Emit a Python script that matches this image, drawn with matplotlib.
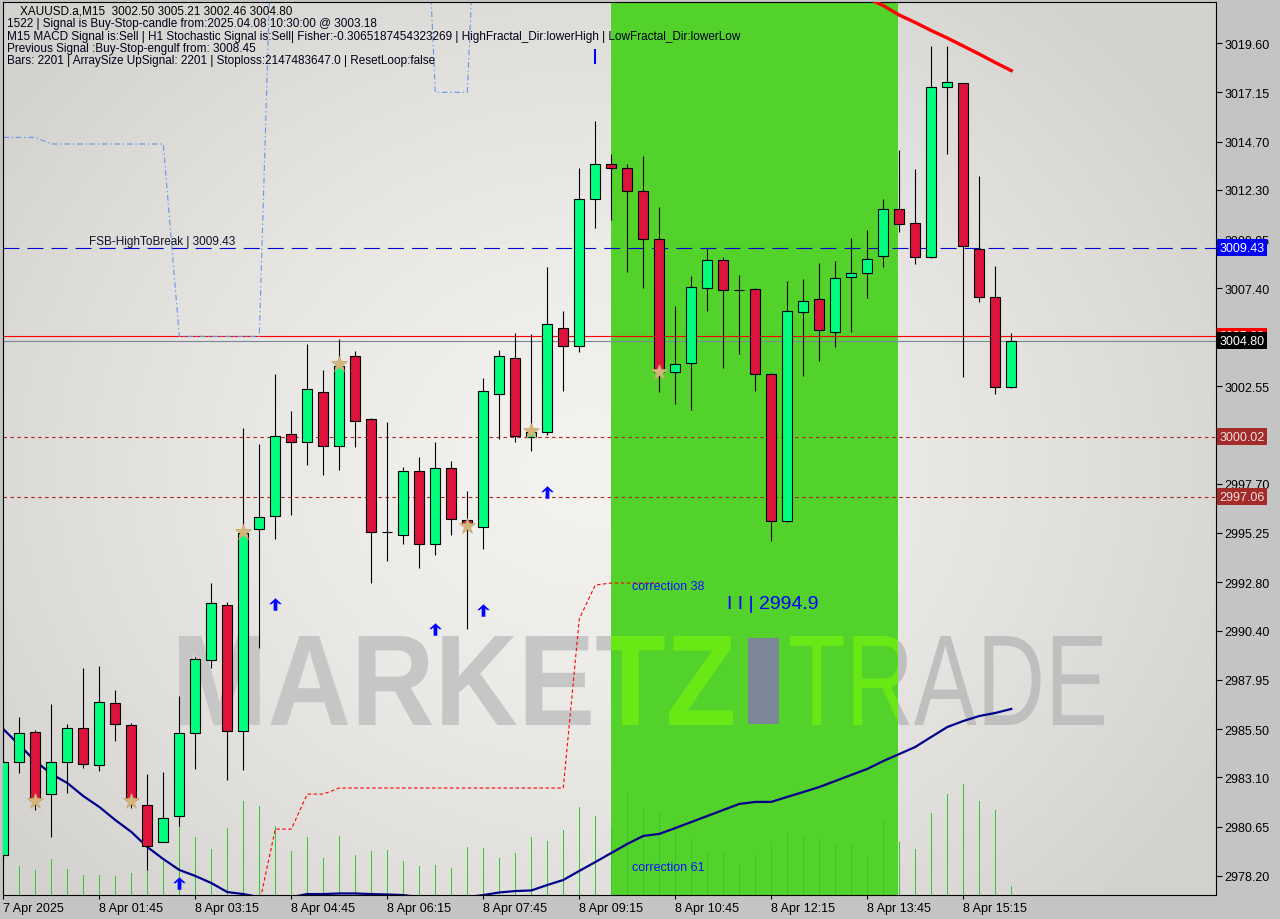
import numpy as np
import matplotlib
matplotlib.use("Agg")
import matplotlib.pyplot as plt
import matplotlib.transforms as mtransforms
from matplotlib.path import Path
from matplotlib.textpath import TextPath
from matplotlib.patches import PathPatch, Rectangle
from matplotlib.font_manager import FontProperties

plt.rcParams['lines.scale_dashes'] = False
plt.rcParams['font.family'] = ['Liberation Sans', 'DejaVu Sans']

# ---------------- data ----------------
opens = [2979.24, 2983.88, 2985.38, 2982.26, 2983.85, 2985.53, 2983.71, 2986.78, 2985.69, 2981.75,
         2979.87, 2981.18, 2985.33, 2988.94, 2991.65, 2985.42, 2995.43, 2996.08, 3000.15, 2999.78,
         3002.26, 2999.59, 3004.03, 3000.91, 2995.32, 2995.16, 2998.32, 2994.69, 2998.47, 2995.90,
         2995.52, 3002.13, 3003.92, 3000.02, 3000.29, 3005.42, 3004.56, 3011.83, 3013.57, 3013.37,
         3012.23, 3009.84, 3003.23, 3003.68, 3007.41, 3008.80, 3007.34, 3007.36, 3003.13, 2995.83,
         3006.22, 3006.86, 3005.22, 3007.96, 3008.15, 3009.00, 3011.33, 3010.64, 3008.95, 3017.40,
         3017.60, 3009.36, 3006.96, 3002.50]
highs = [2985.80, 2986.11, 2985.45, 2986.74, 2985.75, 2988.53, 2988.64, 2987.44, 2985.78, 2983.27,
         2983.36, 2987.14, 2989.07, 2992.74, 2991.84, 3000.47, 2999.69, 3003.14, 3001.30, 3004.66,
         3003.34, 3004.88, 3004.27, 3000.98, 3000.76, 2998.52, 2999.02, 2999.77, 2998.82, 2997.33,
         3002.94, 3004.34, 3005.17, 3005.13, 3008.47, 3006.28, 3013.39, 3015.71, 3014.08, 3013.59,
         3013.98, 3011.45, 3006.53, 3008.02, 3009.40, 3008.95, 3008.07, 3007.40, 3003.20, 3007.77,
         3007.87, 3008.67, 3008.75, 3009.89, 3010.31, 3011.85, 3014.28, 3013.34, 3019.45, 3019.45,
         3017.62, 3013.00, 3008.53, 3005.21]
lows = [2979.00, 2983.34, 2981.50, 2980.16, 2982.32, 2983.58, 2983.43, 2984.93, 2981.60, 2978.52,
        2979.87, 2980.70, 2983.53, 2988.55, 2982.98, 2983.49, 2989.54, 2994.94, 2996.12, 2998.61,
        2998.12, 2998.38, 2999.52, 2992.78, 2993.87, 2994.72, 2993.53, 2994.13, 2995.16, 2990.48,
        2994.47, 2999.93, 2999.78, 2999.34, 3000.10, 3002.32, 3004.26, 3010.42, 3010.82, 3008.23,
        3007.44, 3002.24, 3001.67, 3001.37, 3006.30, 3003.46, 3004.16, 3002.32, 2994.86, 2995.80,
        3003.06, 3003.81, 3004.51, 3005.25, 3006.94, 3008.48, 3010.22, 3008.62, 3008.90, 3014.08,
        3003.01, 3006.74, 3002.16, 3002.46]
closes = [2983.86, 2985.33, 2981.99, 2983.85, 2985.53, 2983.76, 2986.83, 2985.75, 2981.99, 2979.70,
          2981.09, 2985.33, 2988.96, 2991.75, 2985.42, 2995.23, 2996.03, 3000.06, 2999.78, 3002.40,
          2999.59, 3003.53, 3000.83, 2995.32, 2995.32, 2998.32, 2994.72, 2998.47, 2995.94, 2995.76,
          3002.28, 3004.03, 3000.06, 3000.27, 3005.63, 3004.56, 3011.83, 3013.57, 3013.37, 3012.23,
          3009.84, 3003.23, 3003.63, 3007.46, 3008.80, 3007.31, 3007.30, 3003.13, 2995.83, 3006.26,
          3006.76, 3005.32, 3007.91, 3008.15, 3008.85, 3011.33, 3010.59, 3008.95, 3017.40, 3017.65,
          3009.53, 3006.96, 3002.49, 3004.80]
volumes = [310, 290, 250, 360, 260, 200, 200, 190, 220, 255, 340, 695, 580, 460, 670, 945, 890, 690,
           440, 580, 370, 590, 400, 440, 450, 340, 290, 305, 270, 480, 470, 370, 425, 580, 540, 650,
           880, 790, 670, 1020, 870, 840, 720, 570, 440, 440, 310, 400, 530, 630, 600, 560, 520, 510,
           380, 750, 530, 460, 820, 1010, 1110, 940, 850, 90]
ma_line = [2985.50, 2984.71, 2983.91, 2983.27, 2982.82, 2982.17, 2981.63, 2980.98, 2980.39, 2979.64,
           2979.04, 2978.50, 2978.20, 2977.85, 2977.40, 2977.30, 2977.15, 2977.10, 2977.15, 2977.30,
           2977.30, 2977.33, 2977.33, 2977.30, 2977.28, 2977.25, 2977.15, 2977.10, 2977.10, 2977.15,
           2977.25, 2977.38, 2977.45, 2977.48, 2977.75, 2978.00, 2978.45, 2978.89, 2979.34, 2979.79,
           2980.19, 2980.29, 2980.58, 2980.88, 2981.18, 2981.48, 2981.78, 2981.88, 2981.88, 2982.13,
           2982.37, 2982.62, 2982.92, 2983.22, 2983.52, 2983.91, 2984.26, 2984.61, 2985.11, 2985.60,
           2985.90, 2986.15, 2986.30, 2986.50]
nan = float('nan')
upper_band = [3014.91, 3014.91, 3014.91, 3014.58, 3014.58, 3014.58, 3014.58, 3014.58, 3014.58, 3014.58,
              3014.58, 3005.02, 3005.02, 3005.02, 3005.02, 3005.02, 3005.02, 3031.60, 3035.0, 3035.0,
              3035.0, 3035.0, 3035.0, 3035.0, 3035.0, 3035.0, 3035.0, 3017.15, 3017.15, 3017.15,
              3035.0] + [nan] * 33
lower_band = [nan] * 16 + [2976.81, 2980.53, 2980.53, 2982.27, 2982.27] + [2982.57] * 15 + \
             [2990.97, 2992.66, 2992.76, 2992.76, 2992.76, 2992.76] + [nan] * 22
trend_line = [nan] * 54 + [3021.84, 3021.46, 3020.99, 3020.62, 3020.22, 3019.85, 3019.45, 3019.05,
                           3018.63, 3018.23]
star_bars = [2, 8, 15, 21, 29, 33, 41]
star_prices = [2981.93, 2981.93, 2995.30, 3003.65, 2995.59, 3000.32, 3003.25]
arrow_bars = [11, 17, 27, 30, 34]
arrow_prices = [2977.85, 2991.72, 2990.47, 2991.42, 2997.28]
band_start, band_end = 37.98, 55.92

fsb_level = 3009.43
red_level = 3005.03
bid_level = 3004.80
level_1 = 3000.02
level_2 = 2997.06

y_ticks = [3019.60, 3017.15, 3014.70, 3012.30, 3009.85, 3007.40, 3002.55,
           2997.70, 2995.25, 2992.80, 2990.40, 2987.95, 2985.50, 2983.10, 2980.65, 2978.20]
x_tick_bars = [0, 6, 12, 18, 24, 30, 36, 42, 48, 54, 60]
x_tick_labels = ["7 Apr 2025", "8 Apr 01:45", "8 Apr 03:15", "8 Apr 04:45", "8 Apr 06:15",
                 "8 Apr 07:45", "8 Apr 09:15", "8 Apr 10:45", "8 Apr 12:15", "8 Apr 13:45",
                 "8 Apr 15:15"]
header_lines = [
    "XAUUSD.a,M15  3002.50 3005.21 3002.46 3004.80",
    "1522 | Signal is Buy-Stop-candle from:2025.04.08 10:30:00 @ 3003.18",
    "M15 MACD Signal is:Sell | H1 Stochastic Signal is:Sell| Fisher:-0.3065187454323269 | HighFractal_Dir:lowerHigh | LowFractal_Dir:lowerLow",
    "Previous Signal :Buy-Stop-engulf from: 3008.45",
    "Bars: 2201 | ArraySize UpSignal: 2201 | Stoploss:2147483647.0 | ResetLoop:false",
]

# ---------------- figure ----------------
W, H = 1280, 920
fig = plt.figure(figsize=(W / 100, H / 100), dpi=100, facecolor='#c4c4c4')
L, R, T, B = 3, 1216, 3, 896
ax = fig.add_axes([L / W, (H - B) / H, (R - L) / W, (B - T) / H])
YMIN, YMAX = 2977.254, 3021.638
XMIN, XMAX = -0.02, 75.8

# background gradient
ny, nx = 180, 260
yy, xx = np.mgrid[0:ny, 0:nx]
px = L + xx / (nx - 1) * (R - L)
py = T + yy / (ny - 1) * (B - T)
r = np.sqrt((px - 590) ** 2 + ((py - 470) * 1.15) ** 2)
g = 0.95 - 0.125 * np.clip(r / 720, 0, 1) ** 1.4
img = np.clip(np.dstack([g + 0.006, g, g - 0.012]), 0, 1)
ax.imshow(img, extent=(0, 1, 0, 1), transform=ax.transAxes, aspect='auto', zorder=0,
          interpolation='bilinear')

# watermark
def px_box_transform(path, x0, x1, y0, y1):
    ex = path.get_extents()
    X0, X1 = x0 / 100, x1 / 100
    Y0, Y1 = (H - y1) / 100, (H - y0) / 100
    return (mtransforms.Affine2D().translate(-ex.x0, -ex.y0)
            .scale((X1 - X0) / ex.width, (Y1 - Y0) / ex.height)
            .translate(X0, Y0) + fig.dpi_scale_trans)

band_clip = Rectangle((band_start, YMIN), band_end - band_start, YMAX - YMIN, transform=ax.transData)
p_mk = TextPath((0, 0), "MARKETZ", size=100, prop=FontProperties(family='Liberation Sans', weight='bold'))
p_tr = TextPath((0, 0), "TRADE", size=100, prop=FontProperties(family='Liberation Sans', weight='normal'))
for path, box, col in [(p_mk, (179, 733, 637, 726), '#c6c6c6'), (p_tr, (790, 1104, 637, 726), '#bfbfbf')]:
    tr = px_box_transform(path, *box)
    pp = PathPatch(path, transform=tr, fc=col, ec='none', zorder=0.5)
    ax.add_patch(pp)
    pg = PathPatch(path, transform=tr, fc='#6ae816', ec='none', zorder=1.1)
    ax.add_patch(pg)
    pg.set_clip_path(band_clip)
ax.add_patch(Rectangle((7.48, (H - 725) / 100), 0.31, 0.86, transform=fig.dpi_scale_trans,
                       fc='#7b8796', ec='none', zorder=1.2))

# green band
ax.axvspan(band_start, band_end, color='#52d22a', lw=0, zorder=1)

x = np.arange(len(opens))
o = np.array(opens); h = np.array(highs); l = np.array(lows); c = np.array(closes)

# volumes
ax.vlines(x, 0, np.array(volumes) / 8930.0, transform=ax.get_xaxis_transform(),
          color='#32c832', lw=0.72, antialiased=False, zorder=1.5)

# horizontal levels
ax.axhline(fsb_level, color='#0000d0', lw=0.8, ls=(0, (11.5, 5.8)), zorder=2)
ax.axhline(red_level, color='#ff0000', lw=0.8, zorder=2)
ax.axhline(bid_level, color='#778899', lw=0.8, zorder=2)
ax.axhline(level_1, color='#b22222', lw=0.8, ls=(0, (2.5, 2.5)), zorder=2)
ax.axhline(level_2, color='#b22222', lw=0.8, ls=(0, (2.5, 2.5)), zorder=2)

# indicator lines
ax.plot(x, upper_band, color='#6495ed', lw=0.8, ls=(0, (4, 2, 1, 2)), zorder=2.2)
ax.plot(x, lower_band, color='#ff0000', lw=0.8, ls=(0, (2.5, 1.8)), zorder=2.2)
ax.plot(x, ma_line, color='#00008b', lw=1.6, zorder=2.5)
ax.plot(x, trend_line, color='#ff0000', lw=2.4, zorder=2.6)

# candles
up = c >= o
ax.vlines(x, l, h, color='black', lw=0.8, zorder=3)
ax.bar(x, np.abs(c - o), bottom=np.minimum(o, c), width=0.625,
       color=np.where(up, '#00ff7f', '#dc143c'), edgecolor='black', linewidth=0.8, zorder=3.1)

# stars and arrows
ax.plot(star_bars, star_prices, ls='none', marker='*', ms=12, color='#d4b67c', mec='#c9a86c',
        mew=0.5, zorder=4)
arrow = Path([(0, 1), (1, 0.05), (0.62, 0.05), (0.3, 0.344), (0.3, -1), (-0.3, -1),
              (-0.3, 0.344), (-0.62, 0.05), (-1, 0.05), (0, 1)], closed=True)
ax.plot(arrow_bars, arrow_prices, ls='none', marker=arrow, ms=9, color='#0000ff', mew=0, zorder=4)

# small blue mark
ax.vlines([37], [3018.56], [3019.30], color='#0000ff', lw=1.5, zorder=4)

# chart texts
ax.text(5.36, 3009.76, "FSB-HighToBreak | 3009.43", fontsize=8.5, color='#101028', va='center',
        ha='left', zorder=5)
ax.text(39.3, 2992.61, "correction 38", fontsize=9, color='#1010ff', va='center', ha='left', zorder=5)
ax.text(39.3, 2978.65, "correction 61", fontsize=9, color='#1010ff', va='center', ha='left', zorder=5)
ax.text(45.23, 2991.72, "I I | 2994.9", fontsize=14, color='#0000ff', va='center', ha='left', zorder=5)

for i, s in enumerate(header_lines):
    xx0 = 20 if i == 0 else 7
    fig.text(xx0 / W, 1 - (12 + 12.3 * i) / H, s, fontsize=8.5, color='#000018' if i else 'black',
             va='center', ha='left')

# axes formatting
ax.set_xlim(XMIN, XMAX)
ax.set_ylim(YMIN, YMAX)
ax.yaxis.tick_right()
ax.set_yticks(y_ticks)
ax.set_yticklabels([f"{v:.2f}" for v in y_ticks])
ax.set_xticks(x_tick_bars)
ax.set_xticklabels(x_tick_labels)
for lab in ax.get_xticklabels():
    lab.set_horizontalalignment('left')
ax.tick_params(axis='y', direction='out', length=4, width=0.8, pad=2, labelsize=9, colors='black')
ax.tick_params(axis='x', direction='out', length=3, width=0.8, pad=2, labelsize=9, colors='black')
for sp in ax.spines.values():
    sp.set_color('black'); sp.set_linewidth(0.8)

# price boxes
def price_box(price, fc, tc):
    ax.text(1 + 3.5 / (R - L), price, f"{price:.2f}", transform=ax.get_yaxis_transform(),
            va='center', ha='left', fontsize=9, color=tc,
            bbox=dict(boxstyle='square,pad=0.2', fc=fc, ec='none'), zorder=10, clip_on=False)

price_box(fsb_level, '#0000ff', 'white')
price_box(red_level, '#ff0000', 'white')
price_box(bid_level, 'black', 'white')
price_box(level_1, '#a52a2a', '#f2e2e2')
price_box(level_2, '#a52a2a', '#f2e2e2')

fig.savefig("out.png", dpi=100, facecolor=fig.get_facecolor())
